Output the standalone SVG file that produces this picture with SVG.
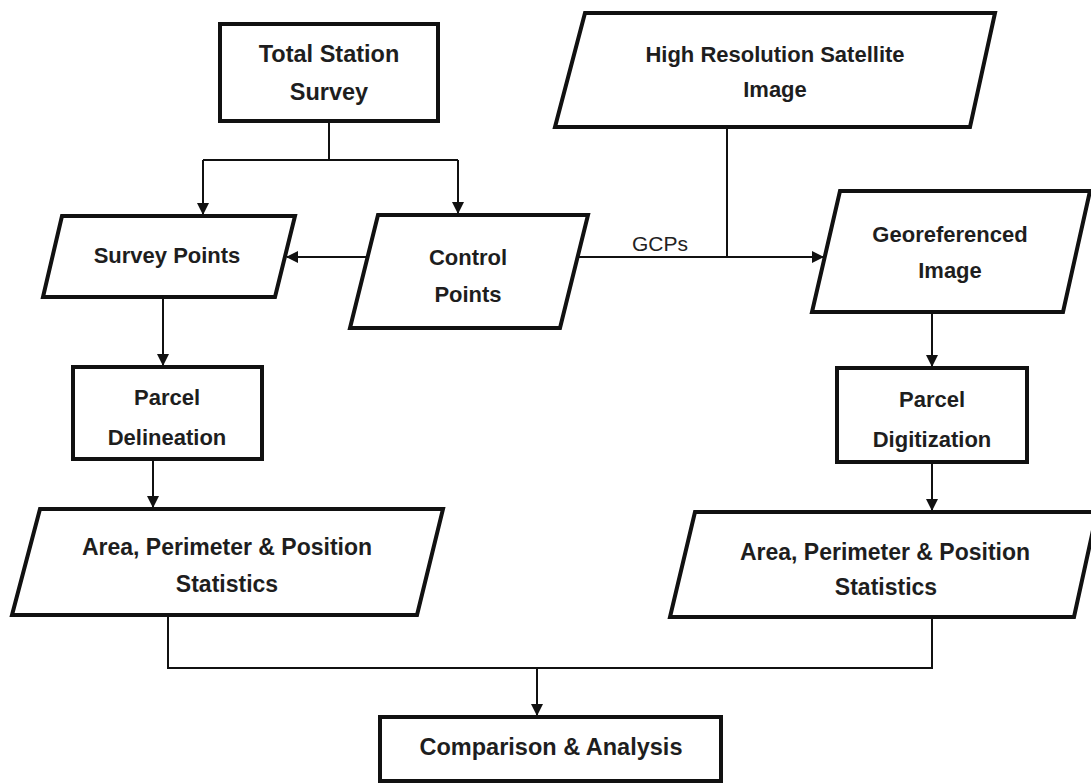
<svg xmlns="http://www.w3.org/2000/svg" width="1091" height="783" viewBox="0 0 1091 783">
  <style>
    .box { fill: #ffffff; stroke: #111111; stroke-width: 4; stroke-linejoin: miter; }
    .lbl { font-family: "Liberation Sans", Arial, sans-serif; font-weight: bold; font-size: 22px; fill: #1e1e1e; text-anchor: middle; }
    .edge { fill: none; stroke: #111111; stroke-width: 2; }
    .elbl { font-family: "Liberation Sans", Arial, sans-serif; font-size: 21px; fill: #222222; }
  </style>
  <defs>
    <marker id="arrow" markerUnits="userSpaceOnUse" markerWidth="12" markerHeight="12" refX="11" refY="6" orient="auto">
      <path d="M0,0 L12,6 L0,12 z" fill="#111111"/>
    </marker>
  </defs>
  <rect width="1091" height="783" fill="#ffffff"/>

  <g id="connectors">
    <path class="edge" d="M329,121 V160 M203,160 H458"/>
    <path class="edge" d="M203,160 V214" marker-end="url(#arrow)"/>
    <path class="edge" d="M458,160 V213" marker-end="url(#arrow)"/>
    <path class="edge" d="M368,257 H287" marker-end="url(#arrow)"/>
    <path class="edge" d="M578,257 H823" marker-end="url(#arrow)"/>
    <path class="edge" d="M727,126 V257"/>
    <text class="elbl" x="632" y="251">GCPs</text>
    <path class="edge" d="M163,297 V365" marker-end="url(#arrow)"/>
    <path class="edge" d="M153,459 V507" marker-end="url(#arrow)"/>
    <path class="edge" d="M932,312 V366" marker-end="url(#arrow)"/>
    <path class="edge" d="M932,462 V510" marker-end="url(#arrow)"/>
    <path class="edge" d="M168,615 V668 H932 V617"/>
    <path class="edge" d="M537,668 V715" marker-end="url(#arrow)"/>
  </g>

  <g id="total-station-survey">
    <rect class="box" x="220" y="24" width="218" height="97"/>
    <text class="lbl" x="329" y="62" style="font-size:23.5px">Total Station</text>
    <text class="lbl" x="329" y="100" style="font-size:23.5px">Survey</text>
  </g>

  <g id="high-resolution-satellite-image">
    <polygon class="box" points="585,13 995,13 970,127 555,127"/>
    <text class="lbl" x="775" y="62">High Resolution Satellite</text>
    <text class="lbl" x="775" y="97">Image</text>
  </g>

  <g id="survey-points">
    <polygon class="box" points="62,216 295,216 275,297 43,297"/>
    <text class="lbl" x="167" y="263">Survey Points</text>
  </g>

  <g id="control-points">
    <polygon class="box" points="378,215 588,215 560,328 350,328"/>
    <text class="lbl" x="468" y="265">Control</text>
    <text class="lbl" x="468" y="302">Points</text>
  </g>

  <g id="georeferenced-image">
    <polygon class="box" points="840,191 1090,191 1063,312 812,312"/>
    <text class="lbl" x="950" y="242">Georeferenced</text>
    <text class="lbl" x="950" y="278">Image</text>
  </g>

  <g id="parcel-delineation">
    <rect class="box" x="73" y="367" width="189" height="92"/>
    <text class="lbl" x="167" y="405">Parcel</text>
    <text class="lbl" x="167" y="445">Delineation</text>
  </g>

  <g id="parcel-digitization">
    <rect class="box" x="837" y="368" width="190" height="94"/>
    <text class="lbl" x="932" y="407">Parcel</text>
    <text class="lbl" x="932" y="447">Digitization</text>
  </g>

  <g id="area-stats-left">
    <polygon class="box" points="40,509 443,509 417,615 12,615"/>
    <text class="lbl" x="227" y="555" style="font-size:23px">Area, Perimeter &amp; Position</text>
    <text class="lbl" x="227" y="592" style="font-size:23px">Statistics</text>
  </g>

  <g id="area-stats-right">
    <polygon class="box" points="695,512 1097,512 1074,617 670,617"/>
    <text class="lbl" x="885" y="560" style="font-size:23px">Area, Perimeter &amp; Position</text>
    <text class="lbl" x="886" y="595" style="font-size:23px">Statistics</text>
  </g>

  <g id="comparison-analysis">
    <rect class="box" x="380" y="717" width="341" height="64"/>
    <text class="lbl" x="551" y="755" style="font-size:23.5px">Comparison &amp; Analysis</text>
  </g>
</svg>
